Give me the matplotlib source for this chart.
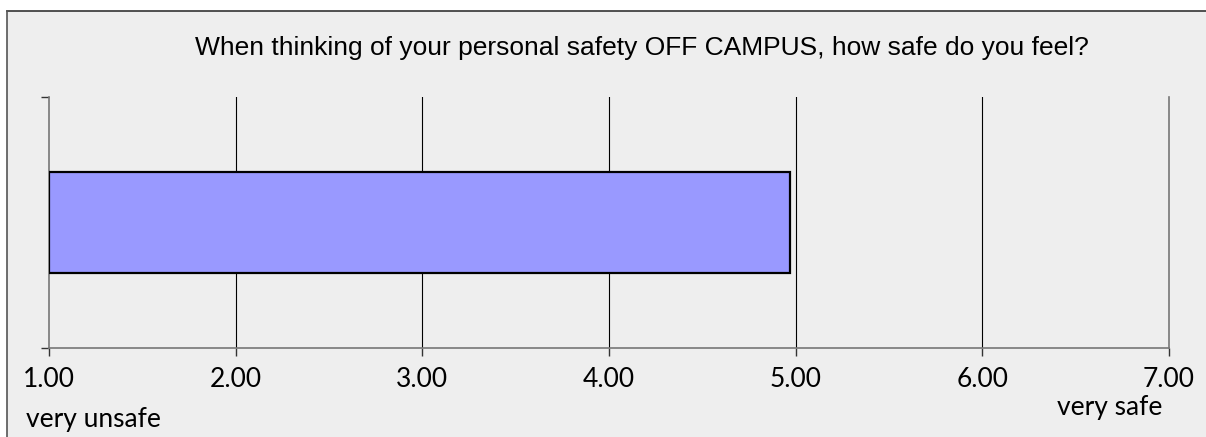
import matplotlib

matplotlib.use("Agg")
import matplotlib.pyplot as plt
from matplotlib.patches import Rectangle
from matplotlib.lines import Line2D

TITLE = "When thinking of your personal safety OFF CAMPUS, how safe do you feel?"
CATEGORIES = ["OFF CAMPUS"]
MEANS = [4.97]
SCALE_MIN = 1.0
SCALE_MAX = 7.0
XTICKS = [1, 2, 3, 4, 5, 6, 7]
LOW_LABEL = "very unsafe"
HIGH_LABEL = "very safe"

W, H = 1206, 437
fig = plt.figure(figsize=(W / 100, H / 100), dpi=100)
fig.patch.set_facecolor("white")

# grey panel with a dark border on top/left only
fig.patches.append(
    Rectangle((7 / W, 0), 1 - 7 / W, 1 - 11 / H, transform=fig.transFigure,
              facecolor="#eeeeee", edgecolor="none", zorder=-5)
)
fig.lines.append(Line2D([7 / W, 1], [1 - 11 / H, 1 - 11 / H], transform=fig.transFigure,
                        color="#333333", lw=1.2, zorder=-4))
fig.lines.append(Line2D([7 / W, 7 / W], [0, 1 - 11 / H], transform=fig.transFigure,
                        color="#555555", lw=1.2, zorder=-4))

ax = fig.add_axes([49 / W, 89 / H, 1120 / W, 251 / H])
ax.set_facecolor("none")

ax.barh(range(len(CATEGORIES)), [m - SCALE_MIN for m in MEANS], left=SCALE_MIN,
        height=0.4, color="#9999ff", edgecolor="black", lw=1.6, zorder=3)

ax.set_xlim(SCALE_MIN, SCALE_MAX)
ax.set_ylim(-0.5, 0.5)
ax.set_xticks(XTICKS)
ax.set_xticklabels([f"{t:.2f}" for t in XTICKS], fontfamily="Lato", fontsize=19)
ax.set_yticks([-0.5, 0.5])
ax.set_yticklabels([])
ax.tick_params(axis="both", direction="out", length=6, width=1, color="#333333", pad=8)

for x in XTICKS[1:-1]:
    ax.axvline(x, color="black", lw=0.8, zorder=1)

ax.spines["top"].set_visible(False)
for s in ("left", "right", "bottom"):
    ax.spines[s].set_color("#777777")
    ax.spines[s].set_linewidth(1.2)

fig.text(642 / W, 1 - 48 / H, TITLE, ha="center", va="center",
         fontfamily="Liberation Sans", fontsize=19)
fig.text(26 / W, 1 - 419 / H, LOW_LABEL, ha="left", va="center",
         fontfamily="Lato", fontsize=19)
fig.text(1162 / W, 1 - 408 / H, HIGH_LABEL, ha="right", va="center",
         fontfamily="Lato", fontsize=19)

fig.savefig("out.png", dpi=100)
